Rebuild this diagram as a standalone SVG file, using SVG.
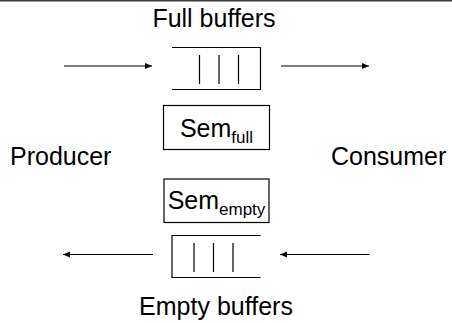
<svg xmlns="http://www.w3.org/2000/svg" width="452" height="323" viewBox="0 0 452 323">
  <style>
    .lbl { font-family: "Liberation Sans", Arial, sans-serif; font-size: 25px; fill: #000; }
    .sub { font-size: 17px; }
    .box { fill: #fff; stroke: #000; stroke-width: 1.2; }
    .q { fill: none; stroke: #000; stroke-width: 1.2; }
    .arrow { stroke: #000; stroke-width: 1.2; fill: none; marker-end: url(#head); }
  </style>
  <defs>
    <marker id="head" markerUnits="userSpaceOnUse" markerWidth="8" markerHeight="8" refX="7" refY="4" orient="auto">
      <path d="M0,1 L7,4 L0,7 Z" fill="#000"/>
    </marker>
  </defs>

  <rect width="452" height="323" fill="#fff"/>
  <!-- rule along the top edge -->
  <rect x="0" y="0" width="452" height="1.5" fill="#3c3c3c"/>

  <text class="lbl" x="214" y="27" text-anchor="middle">Full buffers</text>
  <text class="lbl" x="216" y="315" text-anchor="middle">Empty buffers</text>

  <g id="producer">
    <text class="lbl" x="10" y="165">Producer</text>
  </g>
  <g id="consumer">
    <text class="lbl" x="331" y="165">Consumer</text>
  </g>

  <!-- queue of full buffers: open on the left -->
  <g id="full-queue">
    <path class="q" d="M172,47.5 H260.5 V89.5 H172"/>
    <path class="q" d="M199.5,55 V84 M219,55 V84 M238.5,55 V84"/>
  </g>

  <!-- queue of empty buffers: open on the right -->
  <g id="empty-queue">
    <path class="q" d="M260.5,235.5 H172 V277.5 H260.5"/>
    <path class="q" d="M194,243 V272 M213.5,243 V272 M233,243 V272"/>
  </g>

  <g id="sem-full">
    <rect class="box" x="163.5" y="105.5" width="106" height="44"/>
    <text class="lbl" x="216.5" y="137" text-anchor="middle">Sem<tspan class="sub" dy="6">full</tspan></text>
  </g>

  <g id="sem-empty">
    <rect class="box" x="164" y="179" width="105" height="43.5"/>
    <text class="lbl" x="216.5" y="209" text-anchor="middle">Sem<tspan class="sub" dy="6">empty</tspan></text>
  </g>

  <g id="connectors">
    <line class="arrow" x1="64" y1="66" x2="152" y2="66"/>
    <line class="arrow" x1="281" y1="66" x2="369" y2="66"/>
    <line class="arrow" x1="153" y1="254.5" x2="63" y2="254.5"/>
    <line class="arrow" x1="369.5" y1="254.5" x2="280" y2="254.5"/>
  </g>
</svg>
